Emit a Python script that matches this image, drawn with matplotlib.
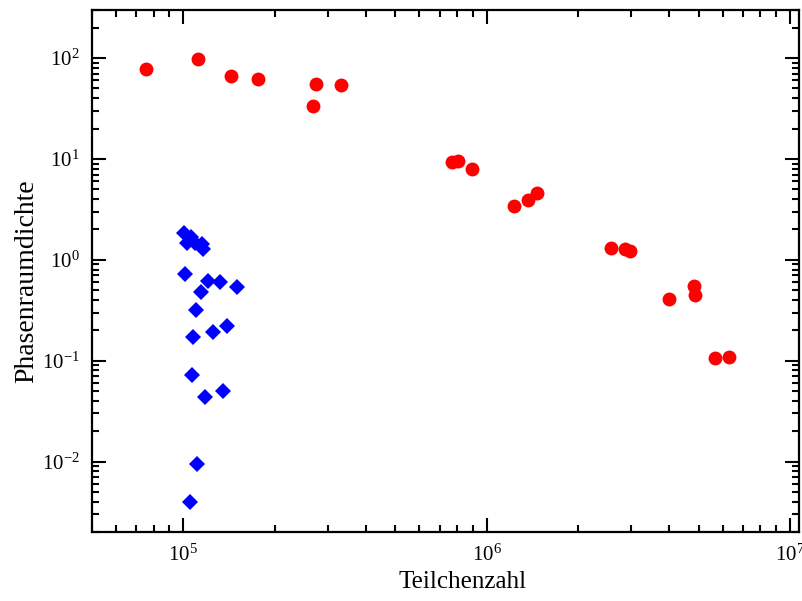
import numpy as np
import matplotlib
matplotlib.use('Agg')
import matplotlib.pyplot as plt
from matplotlib.ticker import LogLocator, LogFormatterSciNotation, NullFormatter

plt.rcParams['font.family'] = 'Liberation Serif'
plt.rcParams['mathtext.fontset'] = 'custom'
plt.rcParams['mathtext.rm'] = 'Liberation Serif'
plt.rcParams['mathtext.it'] = 'Liberation Serif:italic'

# red circles
red_n = [7.51e4, 1.12e5, 1.44e5, 1.76e5, 2.67e5, 2.74e5, 3.30e5,
         7.71e5, 8.02e5, 8.95e5, 1.23e6, 1.37e6, 1.47e6,
         2.57e6, 2.86e6, 2.98e6, 3.99e6, 4.83e6, 4.87e6, 5.66e6, 6.29e6]
red_psd = [77.8, 97.7, 66.4, 62.4, 33.2, 54.8, 54.0,
           9.31, 9.53, 7.94, 3.41, 3.92, 4.56,
           1.32, 1.28, 1.23, 0.411, 0.553, 0.451, 0.1057, 0.108]

# blue diamonds
blue_n = [1.005e5, 1.06e5, 1.03e5, 1.09e5, 1.156e5, 1.164e5,
          1.01e5, 1.21e5, 1.32e5, 1.50e5, 1.14e5, 1.10e5,
          1.39e5, 1.25e5, 1.073e5, 1.065e5, 1.35e5, 1.18e5, 1.106e5, 1.051e5]
blue_psd = [1.86, 1.69, 1.48, 1.46, 1.44, 1.27,
            0.723, 0.617, 0.598, 0.541, 0.480, 0.318,
            0.221, 0.192, 0.172, 0.0726, 0.0501, 0.0436, 0.0094, 0.00395]

fig = plt.figure(figsize=(8.02, 6.01), dpi=100)
ax = fig.add_axes([0.1147, 0.1148, 0.8813, 0.8686])

ax.plot(red_n, red_psd, 'o', color='#ff0000', markersize=10, markeredgewidth=0)
ax.plot(blue_n, blue_psd, 'D', color='#0000ff', markersize=7.8, markeredgewidth=0)

ax.set_xscale('log')
ax.set_yscale('log')
ax.set_xlim(5e4, 1.07e7)
ax.set_ylim(2e-3, 300)

for axis in (ax.xaxis, ax.yaxis):
    axis.set_major_locator(LogLocator(base=10))
    axis.set_minor_locator(LogLocator(base=10, subs=np.arange(2, 10)))
    axis.set_major_formatter(LogFormatterSciNotation())
    axis.set_minor_formatter(NullFormatter())

ax.tick_params(which='both', direction='in', top=True, right=True, labelsize=15)
ax.tick_params(which='major', length=10, width=1.5, pad=9)
ax.tick_params(which='minor', length=5, width=1.5)
for s in ax.spines.values():
    s.set_linewidth(1.6)

ax.set_xlabel('Teilchenzahl', fontsize=18)
ax.set_ylabel('Phasenraumdichte', fontsize=20)
ax.xaxis.set_label_coords(0.525, -0.074)
ax.yaxis.set_label_coords(-0.075, 0.48)

fig.savefig('out.png', dpi=100)
